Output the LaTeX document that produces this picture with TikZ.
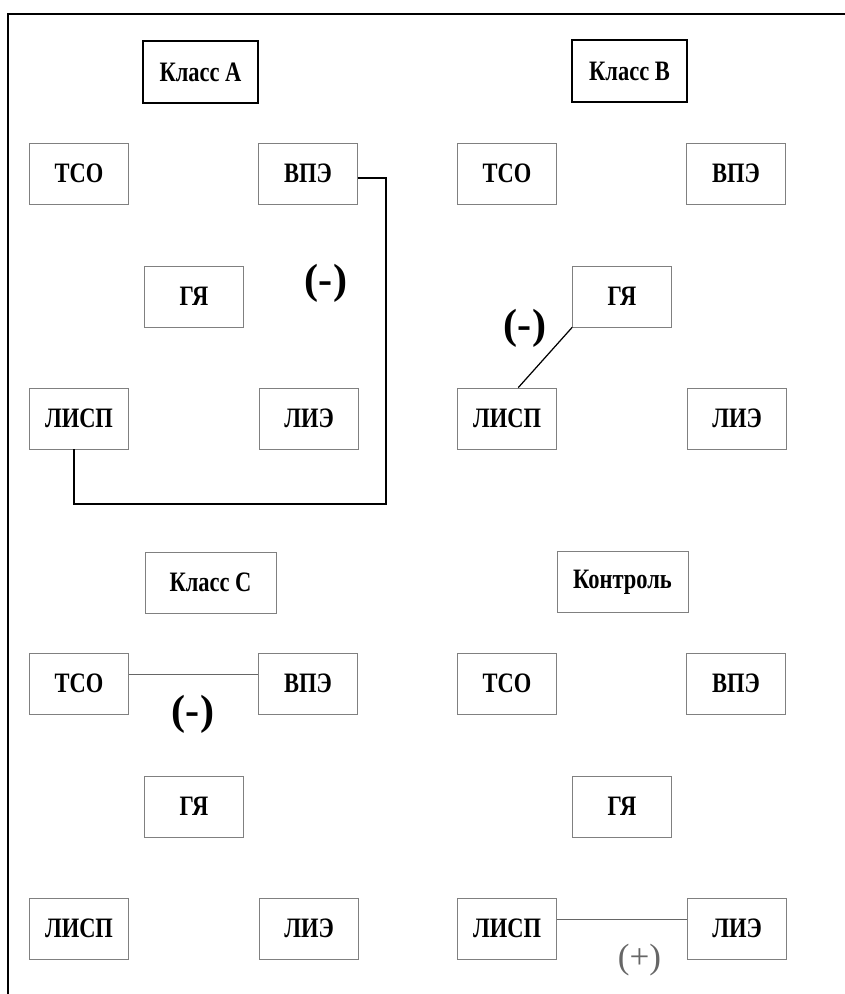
\documentclass[tikz,border=0pt]{standalone}
\usepackage{fontspec}
\setmainfont{Liberation Serif}
\newfontfamily\boxfont[FakeStretch=0.8]{Liberation Serif}
\usetikzlibrary{positioning, calc}

\begin{document}
\begin{tikzpicture}[x=0.02cm, y=-0.02cm,
    cell/.style={rectangle, draw=black!50, line width=0.4pt, minimum width=1.98cm, minimum height=1.22cm, font=\boxfont\bfseries\fontsize{16}{18}\selectfont},
    classbox/.style={cell, draw=black, line width=1pt, minimum width=2.3cm, minimum height=1.24cm},
    ctrlbox/.style={cell, minimum width=2.62cm},
    sign/.style={font=\bfseries\fontsize{24}{26}\selectfont},
    link/.style={draw=black!60, line width=0.5pt}
]
    \useasboundingbox (0,0) rectangle (845,994);
    % Frame
    \draw[line width=1.1pt] (8,994) -- (8,14) -- (845,14);

    % Groups
    \node[classbox] (titleA) at (200.5,72) {Класс A};
    \node[classbox] (titleB) at (629.5,71) {Класс B};
    \node[ctrlbox] (titleC) at (210.5,582.5) {Класс C};
    \node[ctrlbox] (titleD) at (622.5,582) {Контроль};

    % Five boxes in each group
    \foreach \q/\dx/\dy in {A/0/0, B/428/0, C/0/510, D/428/510} {
        \node[cell] (tco\q) at (79+\dx,173.5+\dy) {ТСО};
        \node[cell] (vpe\q) at (308+\dx,173.5+\dy) {ВПЭ};
        \node[cell] (gy\q) at (194+\dx,296.5+\dy) {ГЯ};
        \node[cell] (lisp\q) at (79+\dx,418.5+\dy) {ЛИСП};
        \node[cell] (lie\q) at (309+\dx,418.5+\dy) {ЛИЭ};
    }

    % Connections
    \coordinate (bendA) at (386,504);
    \draw[line width=0.9pt] (vpeA.-5) -| (bendA) -| ([xshift=-0.1cm]lispA.south);
    \draw[line width=0.7pt] (gyB.south west) -- (lispB.70);
    \draw[link] (tcoC.10) -- (vpeC.170);
    \draw[link] (lispD.10) -- (lieD.170);

    % Signs
    \node[sign] (signA) at (326,283) {(-)};
    \node[sign] (signB) at (525,328) {(-)};
    \node[sign] (signC) at (193,714) {(-)};
    \node[font=\fontsize{20}{22}\selectfont, text=black!60] (signD) at (639.5,960) {(+)};
\end{tikzpicture}
\end{document}
